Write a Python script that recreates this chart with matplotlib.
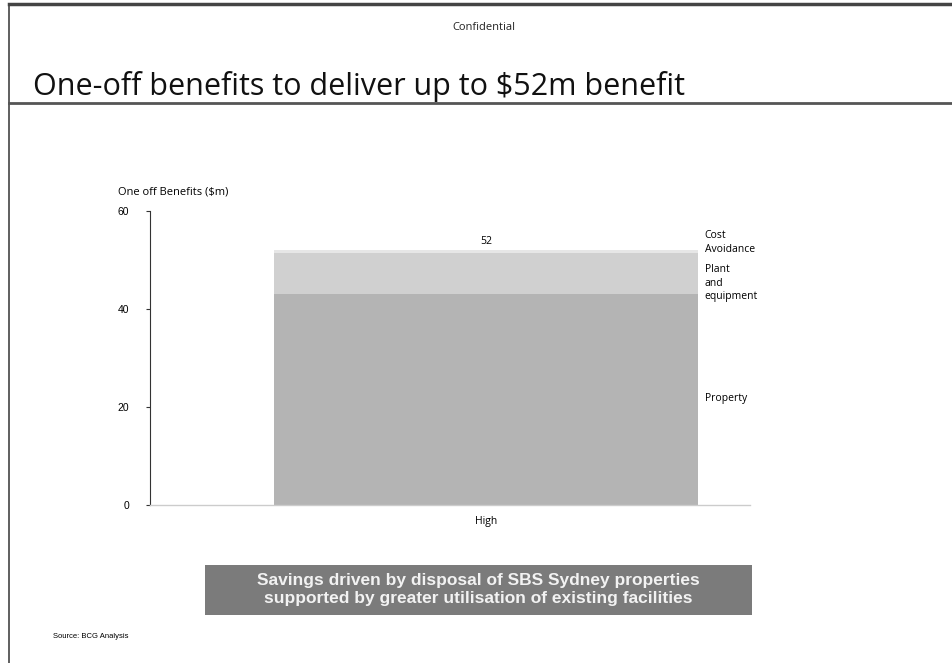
import matplotlib.pyplot as plt
from matplotlib.patches import Rectangle
from matplotlib.lines import Line2D

# data
category = ["High"]
segments = ["Property", "Plant\nand\nequipment", "Cost\nAvoidance"]
values = [43.0, 8.5, 0.5]
total = 52
colors = ["#b4b4b4", "#d0d0d0", "#e6e6e6"]
yticks = [0, 20, 40, 60]

plt.rcParams['font.family'] = ['Open Sans', 'DejaVu Sans']

fig = plt.figure(figsize=(9.52, 6.63), dpi=100)

# slide frame
fig.add_artist(Line2D([9 / 952, 1], [1 - 4 / 663] * 2, color="#444444", lw=2.5))
fig.add_artist(Line2D([9 / 952] * 2, [0, 1 - 4 / 663], color="#444444", lw=1.2))
fig.add_artist(Line2D([9 / 952, 1], [1 - 103 / 663] * 2, color="#555555", lw=2))

fig.text(484 / 952, 1 - 27 / 663, "Confidential", ha="center", va="center",
         fontsize=8, color="#222222")
fig.text(33 / 952, 1 - 86 / 663, "One-off benefits to deliver up to $52m benefit",
         ha="left", va="center", fontsize=22, color="#111111", fontweight="medium")

ax = fig.add_axes([150 / 952, 158 / 663, 600 / 952, 294 / 663])
bottom = 0
for seg, val, col in zip(segments, values, colors):
    ax.bar(0, val, bottom=bottom, width=1.0, color=col, edgecolor="none")
    bottom += val

ax.text(0, total + 0.6, str(total), ha="center", va="bottom", fontsize=7.5)

# segment labels to the right of the bar
label_y = [21.8, 45.3, 53.6]
for seg, y in zip(segments, label_y):
    ax.text(0.515, y, seg, ha="left", va="center", fontsize=7.5, linespacing=1.3)

ax.set_xlim(-0.793, 0.622)
ax.set_ylim(0, 60)
ax.set_yticks(yticks)
ax.set_xticks([0])
ax.set_xticklabels(category)
ax.tick_params(axis="y", length=3, labelsize=7.5, pad=12, color="#333333")
ax.tick_params(axis="x", length=0, labelsize=7.5, pad=8)
for lbl in ax.get_yticklabels():
    lbl.set_family(["Liberation Sans", "DejaVu Sans"])
for s in ["top", "right"]:
    ax.spines[s].set_visible(False)
ax.spines["left"].set_color("#333333")
ax.spines["left"].set_linestyle((0, (2, 1)))
ax.spines["left"].set_linewidth(0.8)
ax.spines["bottom"].set_color("#cccccc")
ax.spines["bottom"].set_linewidth(1)

fig.text(118 / 952, 1 - 192 / 663, "One off Benefits ($m)", ha="left", va="center",
         fontsize=8)

# takeaway box
fig.add_artist(Rectangle((205 / 952, 1 - 615 / 663), 547 / 952, 50 / 663,
                         transform=fig.transFigure, facecolor="#7b7b7b",
                         edgecolor="none"))
fig.text(478 / 952, 1 - 590 / 663,
         "Savings driven by disposal of SBS Sydney properties\n"
         "supported by greater utilisation of existing facilities",
         ha="center", va="center", fontsize=12.5, color="#f2f2f2",
         fontweight="bold", family=["Liberation Sans", "DejaVu Sans"],
         linespacing=1.25)

fig.text(53 / 952, 1 - 636 / 663, "Source: BCG Analysis", ha="left", va="center",
         fontsize=5.5, family=["Liberation Sans", "DejaVu Sans"])

fig.savefig("out.png", dpi=100)
